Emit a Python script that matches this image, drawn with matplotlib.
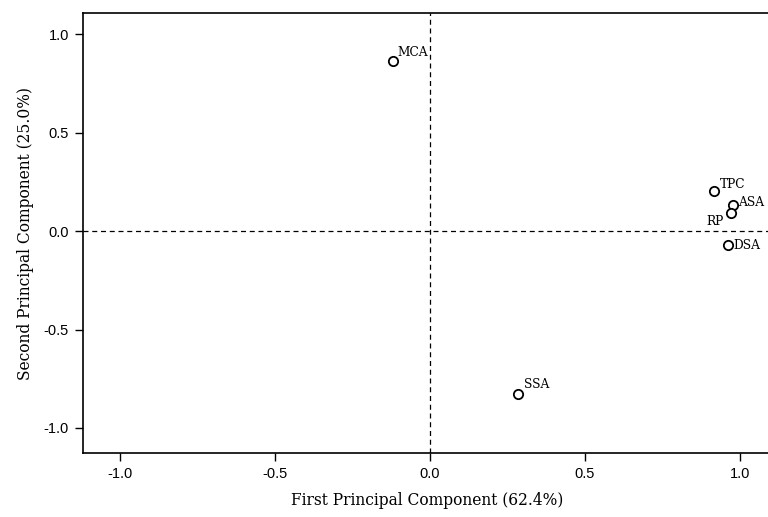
import matplotlib
matplotlib.use("Agg")
import matplotlib.pyplot as plt

labels = ["MCA", "TPC", "ASA", "RP", "DSA", "SSA"]
pc1 = [-0.12, 0.916, 0.977, 0.971, 0.961, 0.284]
pc2 = [0.863, 0.203, 0.132, 0.091, -0.071, -0.827]

W, H = 768, 517
fig = plt.figure(figsize=(W/100, H/100), dpi=100)
left, right, top, bottom = 83, 772, 13, 453
ax = fig.add_axes([left/W, 1-bottom/H, (right-left)/W, (bottom-top)/H])

ax.axhline(0, color="black", lw=0.9, ls=(0, (4, 3)), zorder=1)
ax.axvline(0, color="black", lw=0.9, ls=(0, (4, 3)), zorder=1)
ax.scatter(pc1, pc2, s=45, facecolors="white", edgecolors="black", linewidths=1.3, zorder=3)

offsets = {"MCA": (3, 6, "left"), "TPC": (4, 5, "left"), "ASA": (4, 2, "left"),
           "RP": (-5, -6, "right"), "DSA": (4, 0, "left"), "SSA": (4, 7, "left")}
for lab, x, y in zip(labels, pc1, pc2):
    dx, dy, ha = offsets[lab]
    ax.annotate(lab, (x, y), xytext=(dx, dy), textcoords="offset points",
                ha=ha, va="center", fontsize=8.8, family="DejaVu Serif")

ax.set_xlim(-1.12, (right-430)/310)
ax.set_ylim(-1.127, 1.107)
ax.set_xticks([-1.0, -0.5, 0.0, 0.5, 1.0])
ax.set_yticks([-1.0, -0.5, 0.0, 0.5, 1.0])
ax.set_xticklabels(["-1.0", "-0.5", "0.0", "0.5", "1.0"])
ax.set_yticklabels(["-1.0", "-0.5", "0.0", "0.5", "1.0"])
for t in ax.get_xticklabels() + ax.get_yticklabels():
    t.set_family("Liberation Sans")
    t.set_fontsize(10.5)
ax.tick_params(direction="out", length=6, width=1, color="black", pad=4)
ax.spines["right"].set_visible(False)
for s in ["left", "bottom", "top"]:
    ax.spines[s].set_linewidth(1.2)

ax.set_xlabel("First Principal Component (62.4%)", family="DejaVu Serif", fontsize=11.2, labelpad=8)
ax.set_ylabel("Second Principal Component (25.0%)", family="DejaVu Serif", fontsize=11.2, labelpad=7)

fig.savefig("out.png", dpi=100)
